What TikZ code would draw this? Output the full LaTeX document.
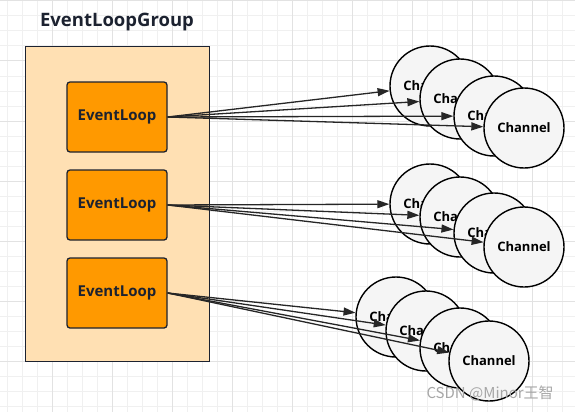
\documentclass[tikz,border=0pt]{standalone}
\usepackage{fontspec}
\setmainfont{Open Sans}
\newfontfamily\cjkfont{Noto Sans CJK SC}
\usetikzlibrary{arrows.meta}

\definecolor{peach}{HTML}{FFE0B3}
\definecolor{orangeloop}{HTML}{FF9900}
\definecolor{chanfill}{HTML}{F5F5F5}
\definecolor{encre}{HTML}{1C2230}
\definecolor{gridminor}{HTML}{F0F0F0}
\definecolor{gridmajor}{HTML}{E2E2E2}

\tikzset{
  evloop/.style={draw=encre, fill=orangeloop, line width=1.3pt, rounded corners=3pt,
    minimum width=100pt, minimum height=70pt, inner sep=0pt, text=encre,
    font=\bfseries\fontsize{15}{17}\selectfont},
  chan/.style={circle, draw=black, fill=chanfill, line width=1.4pt, minimum size=80pt,
    inner sep=0pt, font=\bfseries\fontsize{13}{15}\selectfont},
  lien/.style={draw=black!85, line width=1.3pt, -{Triangle[length=12pt,width=8pt]}},
}

\begin{document}
\begin{tikzpicture}[x=1pt,y=-1pt]
        \useasboundingbox (0,0) rectangle (575,412);

        % quadrillage de fond
        \foreach \x in {7,22,...,575} \draw[gridminor, line width=1pt] (\x,0) -- (\x,412);
        \foreach \y in {1,16,...,412} \draw[gridminor, line width=1pt] (0,\y) -- (575,\y);
        \foreach \x in {52,112,...,575} \draw[gridmajor, line width=1pt] (\x,0) -- (\x,412);
        \foreach \y in {1,61,...,412} \draw[gridmajor, line width=1pt] (0,\y) -- (575,\y);

        % le groupe
        \node[draw=encre, fill=peach, line width=1.4pt, minimum width=184pt, minimum height=315pt,
          anchor=north west] (groupe) at (25,46) {};
        \node[text=encre, font=\bfseries\fontsize{18.5}{20}\selectfont] (titre) at (117,22) {EventLoopGroup};

        % les event loops
        \node[evloop] (el1) at (117,117) {EventLoop};
        \node[evloop] (el2) at (117,205) {EventLoop};
        \node[evloop] (el3) at (117,293) {EventLoop};

        % channels du premier event loop
        \node[chan] (c11) at (430,86) {Channel};
        \node[chan] (c12) at (460,99) {Channel};
        \node[chan] (c13) at (494,116) {Channel};
        \node[chan] (c14) at (524,128) {Channel};

        % channels du deuxieme event loop
        \node[chan] (c21) at (430,204) {Channel};
        \node[chan] (c22) at (460,217) {Channel};
        \node[chan] (c23) at (494,233) {Channel};
        \node[chan] (c24) at (524,247) {Channel};

        % channels du troisieme event loop
        \node[chan] (c31) at (396,317) {Channel};
        \node[chan] (c32) at (426,331) {Channel};
        \node[chan] (c33) at (460,348) {Channel};
        \node[chan] (c34) at (489,361) {Channel};

        % liens event loop -> channels (en dernier pour passer dessus)
        \draw[lien] (el1.east) -- (c11);
        \draw[lien] (el1.east) -- (c12);
        \draw[lien] (el1.east) -- (c13);
        \draw[lien] (el1.east) -- (c14);

        \draw[lien] (el2.east) -- (c21);
        \draw[lien] (el2.east) -- (c22);
        \draw[lien] (el2.east) -- (c23);
        \draw[lien] (el2.east) -- (c24);

        \draw[lien] (el3.east) -- (c31);
        \draw[lien] (el3.east) -- (c32);
        \draw[lien] (el3.east) -- (c33);
        \draw[lien] (el3.east) -- (c34);

        % filigrane
        \node[text=black!35, anchor=west, font=\cjkfont\fontsize{15}{17}\selectfont] (marque) at (423,393) {CSDN @Minor王智};
    \end{tikzpicture}
\end{document}
